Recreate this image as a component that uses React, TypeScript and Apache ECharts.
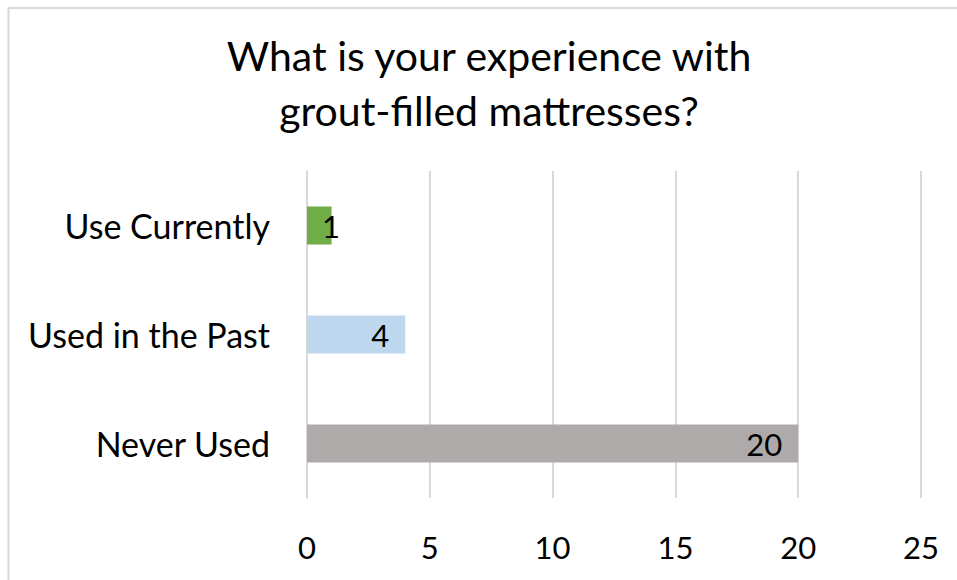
import React, { useEffect, useRef } from "react";
import * as echarts from "echarts";

const titleLines = ["What is your experience with", "grout-filled mattresses?"];
const categories = ["Never Used", "Used in the Past", "Use Currently"];
const values = [20, 4, 1];
const barColors = ["#AEAAAA", "#BDD7EE", "#70AD47"];
const xTicks = [0, 5, 10, 15, 20, 25];

const FONT = "Lato, 'Open Sans', sans-serif";

export default function App() {
  const ref = useRef<HTMLDivElement>(null);
  useEffect(() => {
    if (!ref.current) return;
    const chart = echarts.init(ref.current, null, { renderer: "svg" });
    chart.setOption({
      animation: false,
      backgroundColor: "#ffffff",
      title: {
        text: titleLines.join("\n"),
        left: 484,
        top: 23,
        textAlign: "center",
        textStyle: {
          fontFamily: FONT,
          fontSize: 41,
          fontWeight: "normal",
          color: "#000000",
          lineHeight: 55,
        },
      },
      graphic: [
        {
          type: "rect",
          shape: { x: 8.5, y: 8, width: 1200, height: 1000 },
          style: { fill: "none", stroke: "#d9d9d9", lineWidth: 2 },
          silent: true,
          z: 100,
        },
      ],
      grid: { left: 307, right: 36, top: 171, bottom: 82, containLabel: false },
      xAxis: {
        type: "value",
        min: xTicks[0],
        max: xTicks[xTicks.length - 1],
        interval: xTicks[1] - xTicks[0],
        axisLine: { show: false },
        axisTick: { show: false },
        splitLine: { show: true, lineStyle: { color: "#d9d9d9", width: 2 } },
        axisLabel: {
          fontFamily: FONT,
          fontSize: 31,
          color: "#000000",
          margin: 33,
        },
      },
      yAxis: {
        type: "category",
        data: categories,
        axisLine: { show: true, lineStyle: { color: "#d9d9d9", width: 2 } },
        axisTick: { show: false },
        axisLabel: {
          fontFamily: FONT,
          fontSize: 34,
          color: "#000000",
          margin: 37,
        },
      },
      series: [
        {
          type: "bar",
          barWidth: "35%",
          data: values.map((v, i) => ({
            value: v,
            itemStyle: { color: barColors[i] },
            label:
              v < 2
                ? { position: [15, "50%"], verticalAlign: "middle", align: "left" }
                : undefined,
          })),
          label: {
            show: true,
            position: "insideRight",
            distance: 16,
            fontFamily: FONT,
            fontSize: 31,
            color: "#000000",
          },
        },
      ],
    });
    return () => chart.dispose();
  }, []);
  return (
    <div
      ref={ref}
      style={{ position: "fixed", left: 0, top: 0, width: 957, height: 580 }}
    />
  );
}
